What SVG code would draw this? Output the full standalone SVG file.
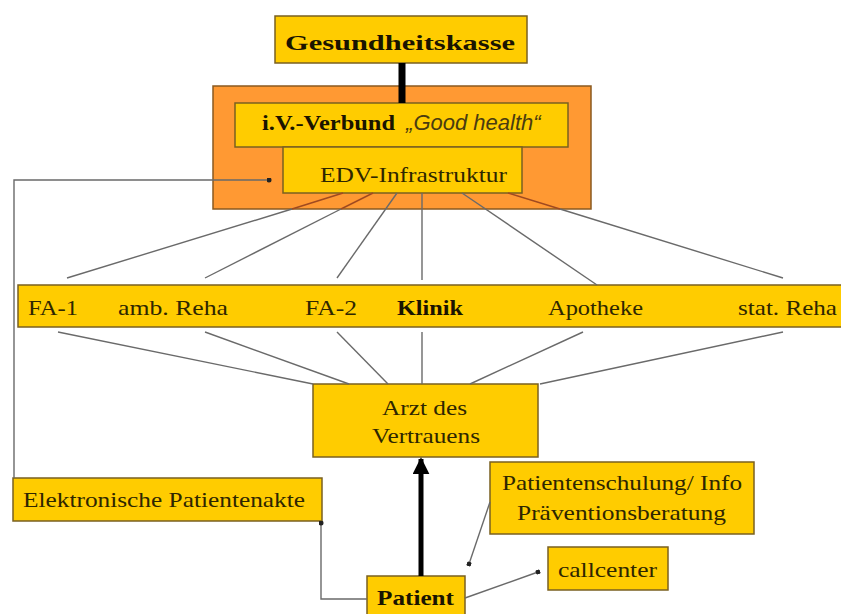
<svg xmlns="http://www.w3.org/2000/svg" width="841" height="614" viewBox="0 0 841 614">
<defs>
<style>
.box{fill:#FFCC00;stroke:#7a6020;stroke-width:1.5}
.org{fill:#FF9933;stroke:#8a5a20;stroke-width:1.5}
.t{font-family:"Liberation Serif","Times New Roman",serif;font-size:22px;fill:#2e2600}
.b{font-weight:bold;fill:#1a1400}
.ln{stroke:#6a6a6a;stroke-width:1.4;fill:none}
.lo{stroke:#a04a20;stroke-width:1.4;fill:none}
</style>
<marker id="dot" viewBox="0 0 10 10" refX="5" refY="5" markerWidth="5" markerHeight="5" markerUnits="userSpaceOnUse" orient="auto">
<circle cx="5" cy="5" r="5" fill="#222"/>
</marker>
<marker id="arr" viewBox="0 0 10 10" refX="9" refY="5" markerWidth="17" markerHeight="17" markerUnits="userSpaceOnUse" orient="auto">
<path d="M0,0 L10,5 L0,10 Z" fill="#000"/>
</marker>
</defs>
<rect width="841" height="614" fill="#fff"/>

<g id="gesundheitskasse">
<rect class="box" x="275" y="16" width="252" height="47"/>
<text class="t b" x="285" y="50" font-size="27" textLength="230" lengthAdjust="spacingAndGlyphs">Gesundheitskasse</text>
</g>

<g id="verbund-rahmen">
<rect class="org" x="213" y="86" width="378" height="123"/>
</g>

<g id="iv-verbund">
<rect class="box" x="235" y="103" width="333" height="44"/>
<text class="t" x="262" y="130"><tspan class="b" textLength="133" lengthAdjust="spacingAndGlyphs">i.V.-Verbund</tspan><tspan font-family="Liberation Sans,Arial,sans-serif" font-style="italic" fill="#4a3c10" dx="5"> „Good health“</tspan></text>
</g>

<g id="edv">
<rect class="box" x="283" y="147" width="239" height="46"/>
<text class="t" x="320" y="182" textLength="187" lengthAdjust="spacingAndGlyphs">EDV-Infrastruktur</text>
</g>

<g id="leistungserbringer">
<rect class="box" x="18" y="285" width="830" height="42"/>
<text class="t" x="28" y="315" textLength="50" lengthAdjust="spacingAndGlyphs">FA-1</text>
<text class="t" x="118" y="315" textLength="110" lengthAdjust="spacingAndGlyphs">amb. Reha</text>
<text class="t" x="305" y="315" textLength="52" lengthAdjust="spacingAndGlyphs">FA-2</text>
<text class="t b" x="397" y="315" textLength="66" lengthAdjust="spacingAndGlyphs">Klinik</text>
<text class="t" x="548" y="315" textLength="95" lengthAdjust="spacingAndGlyphs">Apotheke</text>
<text class="t" x="738" y="315" textLength="99" lengthAdjust="spacingAndGlyphs">stat. Reha</text>
</g>

<g id="arzt">
<rect class="box" x="313" y="384" width="225" height="73"/>
<text class="t" x="382" y="415" textLength="85" lengthAdjust="spacingAndGlyphs">Arzt des</text>
<text class="t" x="372" y="443" textLength="108" lengthAdjust="spacingAndGlyphs">Vertrauens</text>
</g>

<g id="patientenakte">
<rect class="box" x="13" y="478" width="309" height="43"/>
<text class="t" x="23" y="507" textLength="282" lengthAdjust="spacingAndGlyphs">Elektronische Patientenakte</text>
</g>

<g id="patientenschulung">
<rect class="box" x="490" y="462" width="264" height="72"/>
<text class="t" x="502" y="490" textLength="240" lengthAdjust="spacingAndGlyphs">Patientenschulung/ Info</text>
<text class="t" x="517" y="520" textLength="209" lengthAdjust="spacingAndGlyphs">Präventionsberatung</text>
</g>

<g id="callcenter">
<rect class="box" x="548" y="547" width="120" height="43"/>
<text class="t" x="558" y="577" textLength="99" lengthAdjust="spacingAndGlyphs">callcenter</text>
</g>

<g id="patient">
<rect class="box" x="367" y="576" width="98" height="45"/>
<text class="t b" x="377" y="605" textLength="77" lengthAdjust="spacingAndGlyphs">Patient</text>
</g>

<g id="connectors">
<line x1="402" y1="63" x2="402" y2="103" stroke="#000" stroke-width="7"/>
<line class="lo" x1="343" y1="193" x2="292" y2="209"/>
<line class="ln" x1="292" y1="209" x2="67" y2="278"/>
<line class="lo" x1="373" y1="193" x2="341" y2="209"/>
<line class="ln" x1="341" y1="209" x2="205" y2="278"/>
<line class="ln" x1="397" y1="193" x2="337" y2="278"/>
<line class="ln" x1="422" y1="193" x2="422" y2="280"/>
<line class="ln" x1="462" y1="193" x2="597" y2="285"/>
<line class="lo" x1="508" y1="193" x2="560" y2="209"/>
<line class="ln" x1="560" y1="209" x2="783" y2="278"/>
<line class="ln" x1="58" y1="332" x2="313" y2="384"/>
<line class="ln" x1="205" y1="332" x2="349" y2="384"/>
<line class="ln" x1="337" y1="332" x2="388" y2="384"/>
<line class="ln" x1="422" y1="332" x2="422" y2="384"/>
<line class="ln" x1="583" y1="332" x2="470" y2="384"/>
<line class="ln" x1="783" y1="332" x2="540" y2="384"/>
<polyline class="ln" points="14,478 14,180 269,180" marker-end="url(#dot)"/>
<polyline class="ln" points="367,599 321,599 321,523" marker-end="url(#dot)"/>
<line class="ln" x1="490" y1="502" x2="469" y2="564" marker-end="url(#dot)"/>
<line class="ln" x1="465" y1="598" x2="538" y2="572" marker-end="url(#dot)"/>
<line x1="421" y1="576" x2="421" y2="459" stroke="#000" stroke-width="5" marker-end="url(#arr)"/>
</g>
</svg>
